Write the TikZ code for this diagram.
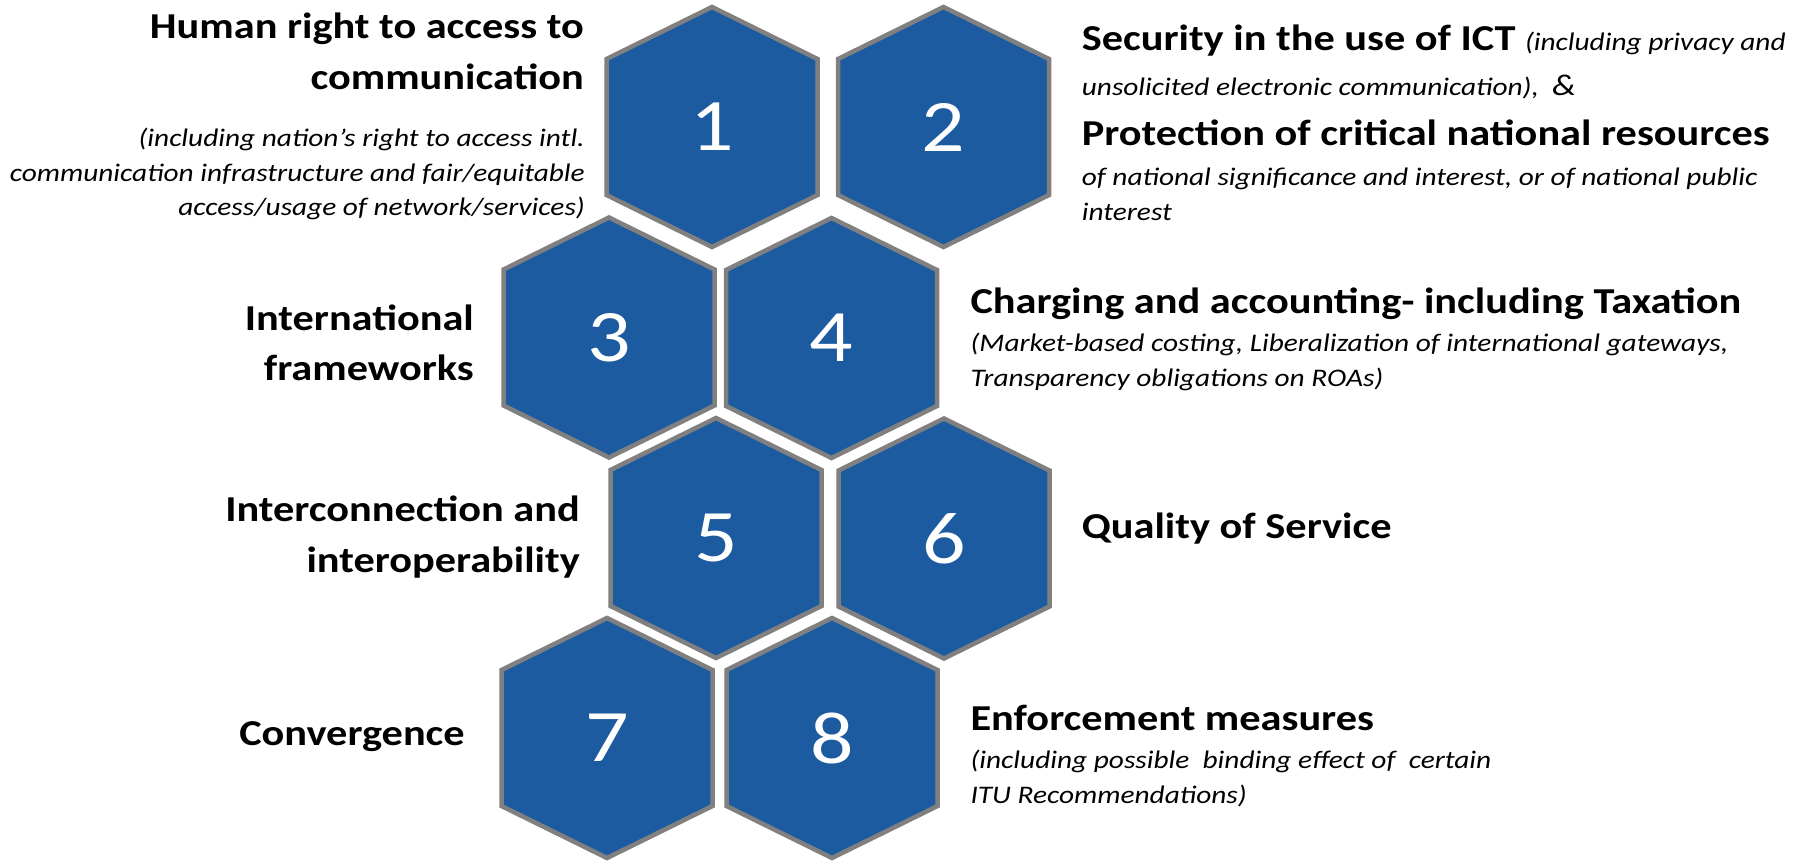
\documentclass[tikz,border=0pt]{standalone}
\usepackage{fontspec}
\setmainfont{Carlito}
\definecolor{hexblue}{RGB}{29,91,161}
\definecolor{hexgray}{RGB}{128,128,128}
\begin{document}
\begin{tikzpicture}[x=1pt,y=-1pt,
  hexa/.style={fill=hexblue,draw=hexgray,line width=4.5pt,line join=miter},
  num/.style={text=white,font=\fontsize{74}{74}\selectfont,inner sep=0pt,xscale=1.16},
  ttl/.style={font=\bfseries\fontsize{36.5}{40}\selectfont,inner sep=0pt,xscale=1.16},
  dsc/.style={font=\itshape\fontsize{25.3}{30}\selectfont,inner sep=0pt,xscale=1.16},
  le/.style={anchor=base east},
  lw/.style={anchor=base west}]
\useasboundingbox (0,0) rectangle (1804,860);
\foreach \n/\cx/\cy in {1/712/127, 2/943.5/127, 3/609/337.5, 4/831.5/338, 5/716/538, 6/944/538.5, 7/607/738, 8/832/738} {
  \draw[hexa] (\cx,\cy-120) -- (\cx+105.5,\cy-68) -- (\cx+105.5,\cy+68) -- (\cx,\cy+120) -- (\cx-105.5,\cy+68) -- (\cx-105.5,\cy-68) -- cycle;
  \node[num] (h\n) at (\cx,\cy) {\n};
}
% left texts
\node[ttl,le] (t1a) at (584,38.3) {Human right to access to};
\node[ttl,le] (t1b) at (584,89.3) {communication};
\node[dsc,le] (d1a) at (585,146.7) {(including nation’s right to access intl.};
\node[dsc,le] (d1b) at (585,181.7) {communication infrastructure and fair/equitable};
\node[dsc,le] (d1c) at (585,215.5) {access/usage of network/services)};
\node[ttl,le] (t3a) at (474,330) {International};
\node[ttl,le] (t3b) at (474,380) {frameworks};
\node[ttl,le] (t5a) at (580,521.7) {Interconnection and};
\node[ttl,le] (t5b) at (580,572.7) {interoperability};
\node[ttl,le] (t7) at (465,745) {Convergence};
% right texts
\node[ttl,lw] (t2a) at (1081.6,50) {Security in the use of ICT {\mdseries\itshape\fontsize{25.3}{30}\selectfont (including privacy and}};
\node[dsc,lw] (d2a) at (1081.6,95) {unsolicited electronic communication),\ \ {\fontsize{30}{30}\selectfont\&}};
\node[ttl,lw] (t2b) at (1081.6,145) {Protection of critical national resources};
\node[dsc,lw] (d2b) at (1081.6,185) {of national significance and interest, or of national public};
\node[dsc,lw] (d2c) at (1081.6,220) {interest};
\node[ttl,lw] (t4) at (970.3,313.3) {Charging and accounting- including Taxation};
\node[dsc,lw] (d4a) at (970.3,351.7) {(Market-based costing, Liberalization of international gateways,};
\node[dsc,lw] (d4b) at (970.3,386.7) {Transparency obligations on ROAs)};
\node[ttl,lw] (t6) at (1081.6,538.3) {Quality of Service};
\node[ttl,lw] (t8) at (970.3,730) {Enforcement measures};
\node[dsc,lw] (d8a) at (970.3,768.3) {(including possible\ \ binding effect of\ \ certain};
\node[dsc,lw] (d8b) at (970.3,803.3) {ITU Recommendations)};
\end{tikzpicture}
\end{document}
